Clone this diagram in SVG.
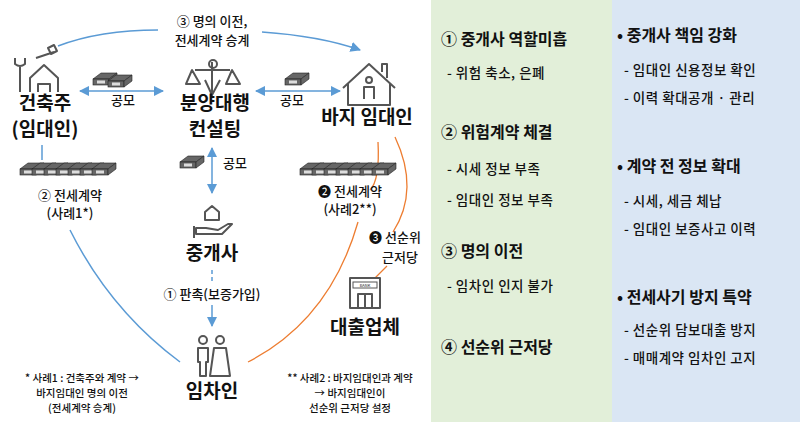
<svg xmlns="http://www.w3.org/2000/svg" width="800" height="422" viewBox="0 0 800 422">
<style>
text{font-family:"Noto Sans CJK KR","Noto Sans",sans-serif;fill:#111}
.n{font-size:19px;font-weight:bold;text-anchor:middle}
.l{font-size:13px;text-anchor:middle;font-weight:500}
.s{font-size:10.5px;text-anchor:middle;font-weight:500}
.h{font-size:16px;font-weight:bold}
.i{font-size:13.5px;font-weight:500;letter-spacing:0.5px}
.ic{fill:none;stroke:#555;stroke-width:2;stroke-linejoin:round}
.b{fill:none;stroke:#5b9bd5;stroke-width:1.5}
.o{fill:none;stroke:#ed7d31;stroke-width:1.3}
.m{fill:#666;stroke:#222;stroke-width:0.6}
</style>
<defs>
<marker id="a" viewBox="0 0 10 10" refX="9" refY="5" markerWidth="7" markerHeight="7" orient="auto-start-reverse"><path d="M0,0L10,5L0,10z" fill="#5b9bd5"/></marker>
<g id="money"><path class="m" d="M0,6 L8,0 H24 L16,6z"/><rect class="m" x="0" y="6" width="16" height="6"/><path class="m" d="M16,6 L24,0 V6 L16,12z"/><rect x="4" y="7.5" width="8" height="3" fill="#ddd"/></g>
</defs>
<rect x="0" y="0" width="431" height="422" fill="#fff"/>
<rect x="431" y="0" width="181" height="422" fill="#e2efd9"/>
<rect x="612" y="0" width="188" height="422" fill="#dae6f4"/>

<g id="connectors">
<path class="b" d="M58,46 Q100,30 158,30"/>
<path class="b" d="M262,32 Q320,36 360,50" marker-end="url(#a)"/>
<line class="b" x1="80" y1="91" x2="163" y2="91" marker-start="url(#a)" marker-end="url(#a)"/>
<line class="b" x1="256" y1="91" x2="340" y2="91" marker-start="url(#a)" marker-end="url(#a)"/>
<line class="b" x1="212" y1="148" x2="212" y2="193" marker-start="url(#a)" marker-end="url(#a)"/>
<line class="b" x1="212" y1="270" x2="212" y2="284" stroke-dasharray="4,3"/>
<line class="b" x1="212" y1="305" x2="212" y2="326" marker-end="url(#a)"/>
<line class="b" x1="42" y1="145" x2="42" y2="160"/>
<path class="b" d="M70,230 Q110,310 180,362"/>
<path class="o" d="M378,142 Q380,180 370,190"/>
<path class="o" d="M358,222 Q330,320 248,362"/>
<path class="o" d="M395,137 Q420,190 393,232"/>
<path class="o" d="M387,266 L375,278"/>
</g>

<g id="builder">
<path class="ic" d="M20,92 V66 M15,58 v6 q5,4 10,0 v-6"/>
<path class="ic" d="M30,92 V78 l14,-13 l14,13 V92 M38,92 V84 h12 V92"/>
<path class="ic" d="M36,58 l18,-6 M48,48 l6,-3 l3,6 l-6,3z"/>
<text class="n" x="45" y="110">건축주</text>
<text class="n" x="45" y="136">(임대인)</text>
</g>
<g id="consulting">
<path class="ic" d="M212,62 V95 M195,70 H230 M192,70 l-6,14 h14z M232,70 l-6,14 h14z M205,80 l7,15 l8,-15"/>
<circle cx="213" cy="64" r="4" class="ic"/>
<text class="n" x="215" y="110">분양대행</text>
<text class="n" x="215" y="136">컨설팅</text>
</g>
<g id="baji">
<path class="ic" d="M343,88 L369,64 L395,88 M348,84 V105 H390 V84 M382,72 V64 h5 V78"/>
<circle cx="369" cy="80" r="3" class="ic"/>
<path class="ic" d="M364,99 V87 h10 V99"/>
<text class="n" x="367" y="124">바지 임대인</text>
</g>
<g id="broker">
<path class="ic" d="M205,212 l7,-6 l7,6 v8 h-14z M196,228 h10 l12,2 l10,-6 h4 l-10,10 h-26z M194,226 v12"/>
<text class="n" x="212" y="260">중개사</text>
</g>
<g id="tenant">
<circle cx="203" cy="340" r="4" class="ic"/><circle cx="220" cy="340" r="4" class="ic"/>
<path class="ic" d="M198,348 h10 v14 h-2 v14 h-6 v-14 h-2z M214,348 h12 l4,28 h-20z"/>
<text class="n" x="212" y="398">임차인</text>
</g>
<g id="bank">
<rect class="ic" x="350" y="278" width="30" height="30"/>
<rect x="353" y="282" width="24" height="6" fill="none" stroke="#555"/>
<text x="365" y="287" style="font-size:4px;text-anchor:middle">BANK</text>
<path class="ic" d="M358,308 V294 h14 V308 M365,294 V308"/>
<text class="n" x="365" y="334">대출업체</text>
</g>

<g id="labels">
<text class="l" x="212" y="26">③ 명의 이전,</text>
<text class="l" x="212" y="45">전세계약 승계</text>
<use href="#money" x="93" y="73"/><use href="#money" x="108" y="75"/>
<text class="l" x="123" y="105">공모</text>
<use href="#money" x="285" y="73"/>
<text class="l" x="292" y="105">공모</text>
<use href="#money" x="180" y="156"/>
<text class="l" x="235" y="168">공모</text>
<use href="#money" x="20" y="163"/><use href="#money" x="32" y="163"/><use href="#money" x="44" y="163"/><use href="#money" x="56" y="163"/><use href="#money" x="68" y="163"/><use href="#money" x="80" y="163"/><use href="#money" x="92" y="163"/>
<use href="#money" x="300" y="163"/><use href="#money" x="312" y="163"/><use href="#money" x="324" y="163"/><use href="#money" x="336" y="163"/><use href="#money" x="348" y="163"/><use href="#money" x="360" y="163"/><use href="#money" x="372" y="163"/>
<text class="l" x="70" y="200">② 전세계약</text>
<text class="l" x="70" y="218">(사례1*)</text>
<text class="l" x="350" y="196">❷ 전세계약</text>
<text class="l" x="350" y="214">(사례2**)</text>
<text class="l" x="395" y="242">❸ 선순위</text>
<text class="l" x="400" y="262">근저당</text>
<text class="l" x="212" y="299">① 판촉(보증가입)</text>
<text class="s" x="82" y="382">* 사례1 : 건축주와 계약 →</text>
<text class="s" x="82" y="397">바지임대인 명의 이전</text>
<text class="s" x="82" y="412">(전세계약 승계)</text>
<text class="s" x="350" y="382">** 사례2 : 바지임대인과 계약</text>
<text class="s" x="350" y="397">→ 바지임대인이</text>
<text class="s" x="350" y="412">선순위 근저당 설정</text>
</g>

<g id="problems">
<text class="h" x="441" y="45">① 중개사 역할미흡</text>
<text class="i" x="447" y="78">- 위험 축소, 은폐</text>
<text class="h" x="441" y="138">② 위험계약 체결</text>
<text class="i" x="447" y="174">- 시세 정보 부족</text>
<text class="i" x="447" y="205">- 임대인 정보 부족</text>
<text class="h" x="441" y="257">③ 명의 이전</text>
<text class="i" x="447" y="291">- 임차인 인지 불가</text>
<text class="h" x="441" y="353">④ 선순위 근저당</text>
</g>
<g id="solutions">
<text class="h" x="617" y="41">• 중개사 책임 강화</text>
<text class="i" x="624" y="75">- 임대인 신용정보 확인</text>
<text class="i" x="624" y="103">- 이력 확대공개 · 관리</text>
<text class="h" x="617" y="172">• 계약 전 정보 확대</text>
<text class="i" x="624" y="206">- 시세, 세금 체납</text>
<text class="i" x="624" y="234">- 임대인 보증사고 이력</text>
<text class="h" x="617" y="303">• 전세사기 방지 특약</text>
<text class="i" x="624" y="335">- 선순위 담보대출 방지</text>
<text class="i" x="624" y="363">- 매매계약 임차인 고지</text>
</g>
</svg>
